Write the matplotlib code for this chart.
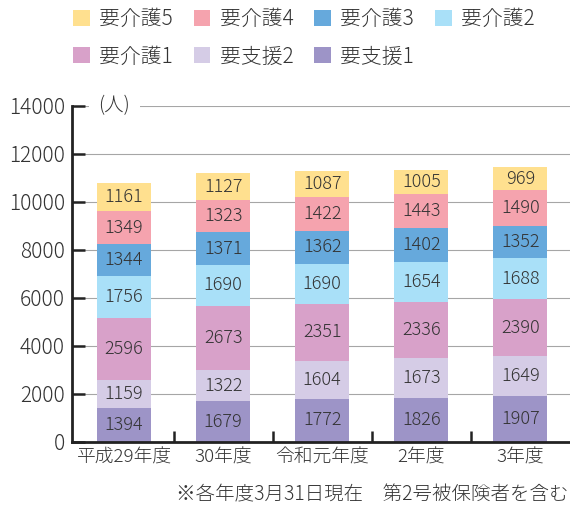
import matplotlib.pyplot as plt
import numpy as np

plt.rcParams['font.family'] = ['Noto Sans CJK JP', 'DejaVu Sans']
plt.rcParams['font.weight'] = 'light'

categories = ['平成29年度', '30年度', '令和元年度', '2年度', '3年度']
series_names = ['要支援1', '要支援2', '要介護1', '要介護2', '要介護3', '要介護4', '要介護5']
shien1 = [1394, 1679, 1772, 1826, 1907]
shien2 = [1159, 1322, 1604, 1673, 1649]
kaigo1 = [2596, 2673, 2351, 2336, 2390]
kaigo2 = [1756, 1690, 1690, 1654, 1688]
kaigo3 = [1344, 1371, 1362, 1402, 1352]
kaigo4 = [1349, 1323, 1422, 1443, 1490]
kaigo5 = [1161, 1127, 1087, 1005, 969]
series = [shien1, shien2, kaigo1, kaigo2, kaigo3, kaigo4, kaigo5]
colors = ['#9d94c7', '#d5cce6', '#d8a1c9', '#a9e0f8', '#66a9dc', '#f5a3ae', '#ffe08f']
yticks = [0, 2000, 4000, 6000, 8000, 10000, 12000, 14000]

fig = plt.figure(figsize=(5.7, 5.12), dpi=100)
ax = fig.add_axes([72 / 570, 1 - 441.7 / 512, 1 - 72 / 570, 336 / 512])

x = np.arange(len(categories))
bottom = np.zeros(len(categories))
handles = []
for name, vals, c in zip(series_names, series, colors):
    vals = np.array(vals)
    b = ax.bar(x, vals, 0.545, bottom=bottom, color=c, label=name, zorder=2)
    handles.append(b)
    for xi, v, bt in zip(x, vals, bottom):
        ax.text(xi, bt + v / 2, str(v), ha='center', va='center',
                fontsize=13, color='#333333', zorder=3)
    bottom += vals

ax.set_xlim(-0.525, 4.5)
ax.set_ylim(0, 14000)
ax.set_yticks(yticks)
ax.set_yticklabels([str(t) for t in yticks], fontsize=15, color='#333333')
ax.set_xticks(x)
ax.set_xticklabels(categories, fontsize=13.5, color='#333333')
ax.set_xticks([0.5, 1.5, 2.5, 3.5], minor=True)
ax.tick_params(axis='x', which='major', length=0, pad=5)
ax.tick_params(axis='x', which='minor', direction='in', length=8, width=1.8, color='#222222')
ax.tick_params(axis='y', direction='in', length=9.4, width=1.8, color='#222222', pad=5)

for s in ['top', 'right']:
    ax.spines[s].set_visible(False)
for s in ['left', 'bottom']:
    ax.spines[s].set_linewidth(2)
    ax.spines[s].set_color('#222222')

for t in yticks[1:]:
    ax.axhline(t, color='#a6a6a6', lw=0.8, zorder=1)

ax.text(-0.1, 14000, '(人)', ha='center', va='center', fontsize=14, color='#333333',
        zorder=4, clip_on=False,
        bbox=dict(facecolor='white', edgecolor='none', pad=7))

order = [6, 2, 5, 1, 4, 0, 3]
fig.legend([handles[i] for i in order], [series_names[i] for i in order],
           ncol=4, loc='upper left', bbox_to_anchor=(73 / 570, 1 - 8 / 512),
           frameon=False, fontsize=15, handlelength=0.8, handleheight=0.8,
           handletextpad=0.45, columnspacing=1.0, labelspacing=0.75,
           borderpad=0, borderaxespad=0, labelcolor='#333333')

fig.text(569 / 570, 1 - 495 / 512, '※各年度3月31日現在　第2号被保険者を含む',
         ha='right', va='center', fontsize=14, color='#333333')

fig.savefig('out.png', dpi=100)
